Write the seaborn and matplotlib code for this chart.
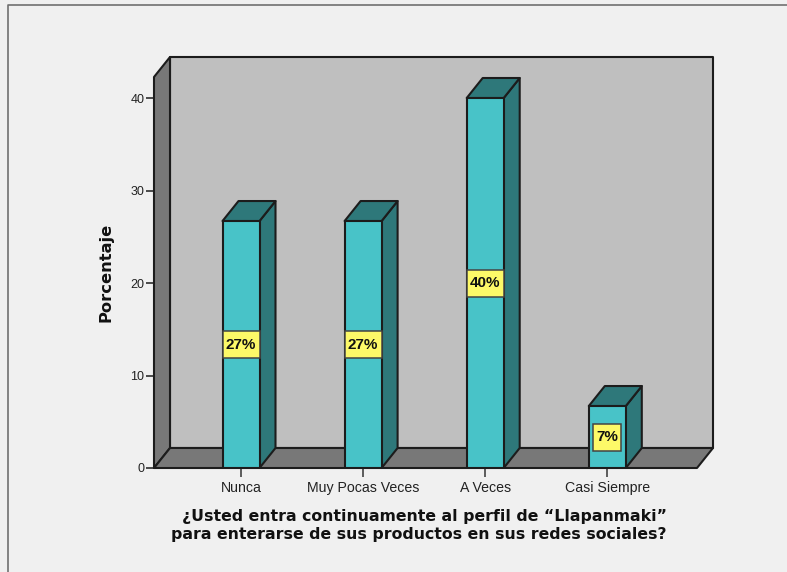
import matplotlib
matplotlib.use("Agg")
import matplotlib.pyplot as plt
from matplotlib.patches import Polygon, Rectangle
from matplotlib.lines import Line2D
import pandas as pd
import seaborn as sns

categories = ["Nunca", "Muy Pocas Veces", "A Veces", "Casi Siempre"]
percentages = [26.7, 26.7, 40.0, 6.7]
y_ticks = [0, 10, 20, 30, 40]
x_title_lines = ["¿Usted entra continuamente al perfil de “Llapanmaki”",
                 "para enterarse de sus productos en sus redes sociales?"]
y_title = "Porcentaje"

W, H = 787, 572
BG = "#f0f0f0"
WALL = "#bfbfbf"
SIDE = "#787878"
FRONT = "#48c3c8"
DARK = "#2e787a"
EDGE = "#1c1c1c"

sns.set_theme(style="white", rc={"figure.facecolor": BG, "axes.facecolor": "none"})
fig = plt.figure(figsize=(W / 100, H / 100), dpi=100, facecolor=BG)

# outer frame of the chart window
fig.add_artist(Line2D([8 / W, 8 / W, 1], [0, 1 - 5 / H, 1 - 5 / H], color="#707070", lw=1.2))

left, right, bottom, top = 154, 697, 468, 77
ax = fig.add_axes([left / W, 1 - bottom / H, (right - left) / W, (bottom - top) / H])

df = pd.DataFrame({"categoria": categories, "porcentaje": percentages})
px_x = 1 / 122.1   # one pixel in category units
px_y = 1 / 9.25    # one pixel in percentage units
bar_w = 37 * px_x
sns.barplot(data=df, x="categoria", y="porcentaje", color=FRONT, saturation=1, width=bar_w,
            edgecolor=EDGE, linewidth=1.5, ax=ax, zorder=6)

ax.set_xlim(-87 * px_x, (right - 241) * px_x)
ax.set_ylim(0, (bottom - top) * px_y)
x0, x1 = ax.get_xlim()
y0, y1 = ax.get_ylim()
dx = 16 * px_x   # depth of the box
dy = 20 * px_y


def face(points, color, z):
    ax.add_patch(Polygon(points, closed=True, facecolor=color, edgecolor=EDGE, lw=1.5,
                         joinstyle="round", clip_on=False, zorder=z))


# back wall, left wall and floor of the 3D box
face([(x0 + dx, y0 + dy), (x1 + dx, y0 + dy), (x1 + dx, y1 + dy), (x0 + dx, y1 + dy)], WALL, 1)
face([(x0, y0), (x0 + dx, y0 + dy), (x0 + dx, y1 + dy), (x0, y1)], SIDE, 2)
face([(x0, y0), (x1, y0), (x1 + dx, y0 + dy), (x0 + dx, y0 + dy)], SIDE, 2)

# side and top faces of every bar, with its value label
for i, v in enumerate(percentages):
    a, b = i - bar_w / 2, i + bar_w / 2
    face([(b, 0), (b + dx, dy), (b + dx, v + dy), (b, v)], DARK, 4)
    face([(a, v), (b, v), (b + dx, v + dy), (a + dx, v + dy)], DARK, 4)
    label = f"{v:.0f}%"
    box_w = (10 + 9 * len(label)) * px_x
    box_h = 27 * px_y
    ax.add_patch(Rectangle((i - box_w / 2, v / 2 - box_h / 2), box_w, box_h, facecolor="#fdf968",
                           edgecolor="#444444", lw=1.1, zorder=7))
    ax.text(i, v / 2, label, ha="center", va="center", fontsize=11, fontweight="bold",
            family="Liberation Sans", color="#111111", zorder=8)

for s in ax.spines.values():
    s.set_visible(False)
ax.set_yticks(y_ticks)
ax.tick_params(axis="y", left=True, length=6, width=1.1, color=EDGE, pad=1, labelsize=9, labelcolor="#222222")
ax.tick_params(axis="x", bottom=True, length=6.5, width=1.1, color="#333333", pad=3, labelsize=10.2, labelcolor="#222222")
for lbl in ax.get_xticklabels() + ax.get_yticklabels():
    lbl.set_family("Liberation Sans")
ax.set_xlabel("")
ax.set_ylabel("")

fig.text(106 / W, 1 - 272.5 / H, y_title, rotation=90, ha="center", va="center",
         fontsize=11.7, fontweight="bold", family="DejaVu Sans", color="#111111")
for line, cx, cy in zip(x_title_lines, (425, 419), (516, 535)):
    fig.text(cx / W, 1 - cy / H, line, ha="center", va="center",
             fontsize=11.3, fontweight="bold", family="DejaVu Sans", color="#111111")

fig.savefig("out.png", dpi=100, facecolor=BG)
